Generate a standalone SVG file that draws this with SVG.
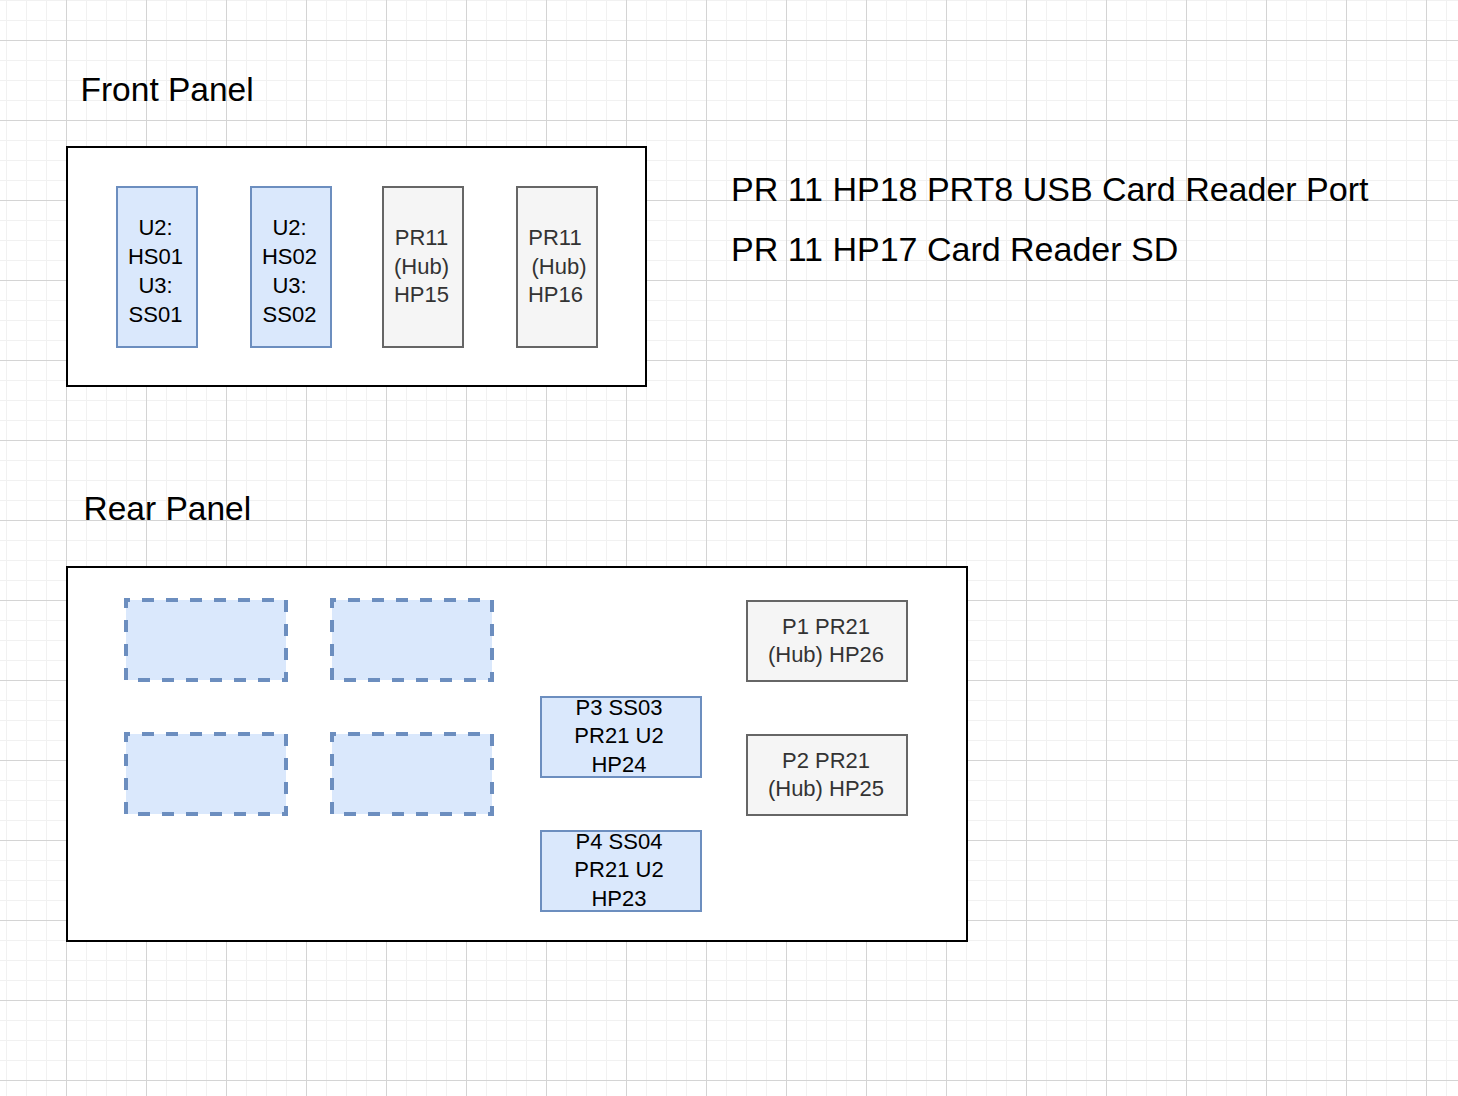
<svg xmlns="http://www.w3.org/2000/svg" width="1458" height="1096" viewBox="0 0 1458 1096">
<style>
.frame{fill:#ffffff;stroke:#000000;stroke-width:2}
.blue{fill:#dae8fc;stroke:#6c8ebf;stroke-width:2}
.gray{fill:#f5f5f5;stroke:#666666;stroke-width:2}
.dash{fill:#dae8fc;stroke:#6c8ebf;stroke-width:4;stroke-dasharray:12 12;stroke-dashoffset:8}
text{font-family:"Liberation Sans",Arial,Helvetica,sans-serif}
.t{font-size:22px;text-anchor:middle;fill:#000000}
.tg{font-size:22px;text-anchor:middle;fill:#333333}
.big{font-size:33.5px;fill:#000000}
.note{font-size:34px;fill:#000000}
</style>
<defs>
<pattern id="minor" width="20" height="20" patternUnits="userSpaceOnUse">
<path d="M6.5 0V20M0 0.5H20" stroke="#f1f1f1" stroke-width="1" fill="none"/>
</pattern>
<pattern id="major" width="80" height="80" patternUnits="userSpaceOnUse">
<path d="M66.5 0V80M0 40.5H80" stroke="#d4d4d4" stroke-width="1" fill="none"/>
</pattern>
</defs>
<rect width="1458" height="1096" fill="#ffffff"/>
<rect width="1458" height="1096" fill="url(#minor)"/>
<rect width="1458" height="1096" fill="url(#major)"/>

<g id="front-label"><text class="big" x="80.5" y="100.5">Front Panel</text></g>
<g id="rear-label"><text class="big" x="83.5" y="520">Rear Panel</text></g>
<g id="note1"><text class="note" x="731" y="200.5">PR 11 HP18 PRT8 USB Card Reader Port</text></g>
<g id="note2"><text class="note" x="731" y="260.5">PR 11 HP17 Card Reader SD</text></g>

<g id="front-panel"><rect class="frame" x="67" y="147" width="579" height="239"/></g>
<g id="rear-panel"><rect class="frame" x="67" y="567" width="900" height="374"/></g>

<g id="f1"><rect class="blue" x="117" y="187" width="80" height="160"/>
<text class="t" x="155.5" y="235">U2:</text><text class="t" x="155.5" y="264">HS01</text><text class="t" x="155.5" y="293">U3:</text><text class="t" x="155.5" y="322">SS01</text></g>
<g id="f2"><rect class="blue" x="251" y="187" width="80" height="160"/>
<text class="t" x="289.5" y="235">U2:</text><text class="t" x="289.5" y="264">HS02</text><text class="t" x="289.5" y="293">U3:</text><text class="t" x="289.5" y="322">SS02</text></g>
<g id="f3"><rect class="gray" x="383" y="187" width="80" height="160"/>
<text class="tg" x="421.5" y="245">PR11</text><text class="tg" x="421.5" y="273.5">(Hub)</text><text class="tg" x="421.5" y="302">HP15</text></g>
<g id="f4"><rect class="gray" x="517" y="187" width="80" height="160"/>
<text class="tg" x="555" y="245">PR11</text><text class="tg" x="559" y="273.5">(Hub)</text><text class="tg" x="555.5" y="302">HP16</text></g>

<g id="r1"><path class="dash" d="M126 600H286V680H126Z"/></g>
<g id="r2"><path class="dash" d="M332 600H492V680H332Z"/></g>
<g id="r3"><path class="dash" d="M126 734H286V814H126Z"/></g>
<g id="r4"><path class="dash" d="M332 734H492V814H332Z"/></g>

<g id="p3"><rect class="blue" x="541" y="697" width="160" height="80"/>
<text class="t" x="619" y="714.5">P3 SS03</text><text class="t" x="619" y="743">PR21 U2</text><text class="t" x="619" y="771.5">HP24</text></g>
<g id="p4"><rect class="blue" x="541" y="831" width="160" height="80"/>
<text class="t" x="619" y="848.5">P4 SS04</text><text class="t" x="619" y="877">PR21 U2</text><text class="t" x="619" y="905.5">HP23</text></g>
<g id="p1"><rect class="gray" x="747" y="601" width="160" height="80"/>
<text class="tg" x="826" y="633.5">P1 PR21</text><text class="tg" x="826" y="662">(Hub) HP26</text></g>
<g id="p2"><rect class="gray" x="747" y="735" width="160" height="80"/>
<text class="tg" x="826" y="767.5">P2 PR21</text><text class="tg" x="826" y="796">(Hub) HP25</text></g>

<g id="connectors"></g>
</svg>
